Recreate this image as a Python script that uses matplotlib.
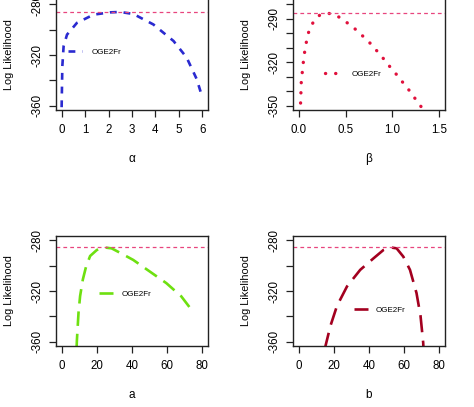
import matplotlib.pyplot as plt

plt.rcParams["font.family"] = ["Liberation Sans", "DejaVu Sans"]

W, H = 474, 407

# profile log-likelihood curves
alpha_x = [0.0, 0.03, 0.085, 0.23, 0.65, 1.36, 2.07, 2.5, 3.06, 3.91, 4.77, 5.33, 5.76, 6.0]
alpha_ll = [-361, -328.7, -313, -304, -294.8, -288.3, -286.5, -286.2, -287.8, -296, -309, -322, -339, -353.4]

beta_x = [0.015, 0.021, 0.028, 0.039, 0.05, 0.064, 0.082, 0.106, 0.152, 0.223, 0.323, 0.429,
          0.518, 0.603, 0.684, 0.762, 0.833, 0.904, 0.972, 1.043, 1.11, 1.177, 1.241, 1.305, 1.33]
beta_ll = [-355, -347.8, -333.8, -326.8, -320, -313, -306.3, -299.5, -292.9, -287.7, -286.4, -288.9,
           -292.9, -297.2, -302, -306.9, -312.1, -317.5, -323, -328.4, -333.8, -339.2, -344.9, -350.5, -353]

a_x = [8.5, 8.66, 9.6, 10.5, 12.05, 13.9, 16.2, 20, 23.7, 28.4, 33.1, 40.7, 50.1, 59.5, 68, 72.7]
a_ll = [-365, -359.2, -337, -324, -311, -300.8, -292.5, -287.8, -285.7, -286.5, -289.9, -295.6,
        -304.7, -313.8, -324.2, -332.7]

b_x = [15.0, 15.3, 18.1, 21.8, 27.5, 35, 42.6, 48.2, 52, 55.7, 59.5, 63.3, 67, 69.3, 70.8, 71.0]
b_ll = [-366, -363, -347.3, -331.7, -316.4, -303.4, -294.3, -287.8, -285.7, -286.5, -293, -303.4,
        -321.6, -339.7, -360.5, -366]

max_ll = [-286.2, -286.4, -285.7, -285.7]

panels = [
    dict(x=alpha_x, y=alpha_ll, label="α", color="#2a2ad0", ls=(0, (2.6, 2.6)), lw=1.9,
         rect=(56, 0, 152, 110), xlim=(-0.24, 6.24), ylim=(-363.2, -276.8),
         xticks=[0, 1, 2, 3, 4, 5, 6], xticklabels=["0", "1", "2", "3", "4", "5", "6"],
         yticks=[-280, -300, -320, -340, -360], ylabels={-280, -320, -360},
         leg=(0.28, -317.5), hl=1.75, htp=1.1, top=True),
    dict(x=beta_x, y=beta_ll, label="β", color="#e0103c", ls=(0, (0.05, 3.0)), lw=2.4,
         rect=(293, 0, 152, 110), xlim=(-0.06, 1.56), ylim=(-352.8, -277.2),
         xticks=[0, 0.5, 1.0, 1.5], xticklabels=["0.0", "0.5", "1.0", "1.5"],
         yticks=[-280, -290, -300, -310, -320, -330, -340, -350], ylabels={-290, -320, -350},
         leg=(0.28, -328.4), hl=1.5, htp=1.8, top=True),
    dict(x=a_x, y=a_ll, label="a", color="#6ee010", ls=(0, (5.5, 3.0)), lw=1.9,
         rect=(56, 236, 152, 110), xlim=(-3.2, 83.2), ylim=(-363.2, -276.8),
         xticks=[0, 20, 40, 60, 80], xticklabels=["0", "20", "40", "60", "80"],
         yticks=[-280, -300, -320, -340, -360], ylabels={-280, -320, -360},
         leg=(21.0, -322.2), hl=1.8, htp=1.0, top=False),
    dict(x=b_x, y=b_ll, label="b", color="#a3001f", ls=(0, (6.5, 3.2)), lw=1.9,
         rect=(293, 236, 152, 110), xlim=(-3.2, 83.2), ylim=(-363.2, -276.8),
         xticks=[0, 20, 40, 60, 80], xticklabels=["0", "20", "40", "60", "80"],
         yticks=[-280, -300, -320, -340, -360], ylabels={-280, -320, -360},
         leg=(31.4, -334.7), hl=1.7, htp=1.0, top=False),
]

fig = plt.figure(figsize=(W / 100, H / 100), dpi=100)

for p, mll in zip(panels, max_ll):
    l, t, w, h = p["rect"]
    ax = fig.add_axes([l / W, 1 - (t + h) / H, w / W, h / H])
    ax.plot(p["x"], p["y"], color=p["color"], lw=p["lw"], linestyle=p["ls"],
            dash_capstyle="round" if p["label"] == "β" else "butt", label="OGE2Fr")
    ax.axhline(mll, color="#e8457e", lw=0.9, linestyle=(0, (3, 2.5)))
    ax.set_xlim(*p["xlim"])
    ax.set_ylim(*p["ylim"])
    ax.set_xticks(p["xticks"])
    ax.set_xticklabels(p["xticklabels"])
    ax.set_yticks(p["yticks"])
    # R draws negative axis labels with a plain hyphen
    ax.set_yticklabels([f"-{abs(v)}" if v in p["ylabels"] else "" for v in p["yticks"]],
                       rotation=90, va="center")
    ax.tick_params(direction="out", length=4.8, width=0.9, colors="#222222",
                   labelsize=8.3, labelcolor="black")
    ax.tick_params(axis="x", pad=5.5)
    ax.tick_params(axis="y", pad=4.5)
    for s in ax.spines.values():
        s.set_linewidth(1.0)
        s.set_color("#222222")
    if p["top"]:
        ax.spines["top"].set_visible(False)

    ax.text(0.5, -49 / h, p["label"], transform=ax.transAxes, ha="center", va="center",
            fontsize=8.5)
    ax.text(-47 / w, 0.5, "Log Likelihood", transform=ax.transAxes, ha="center", va="center",
            rotation=90, fontsize=7.8)

    ax.legend(loc="center left", bbox_to_anchor=p["leg"], bbox_transform=ax.transData,
              frameon=False, fontsize=5.8, borderpad=0, borderaxespad=0,
              handlelength=p["hl"], handletextpad=p["htp"])

fig.savefig("out.png", dpi=100)
